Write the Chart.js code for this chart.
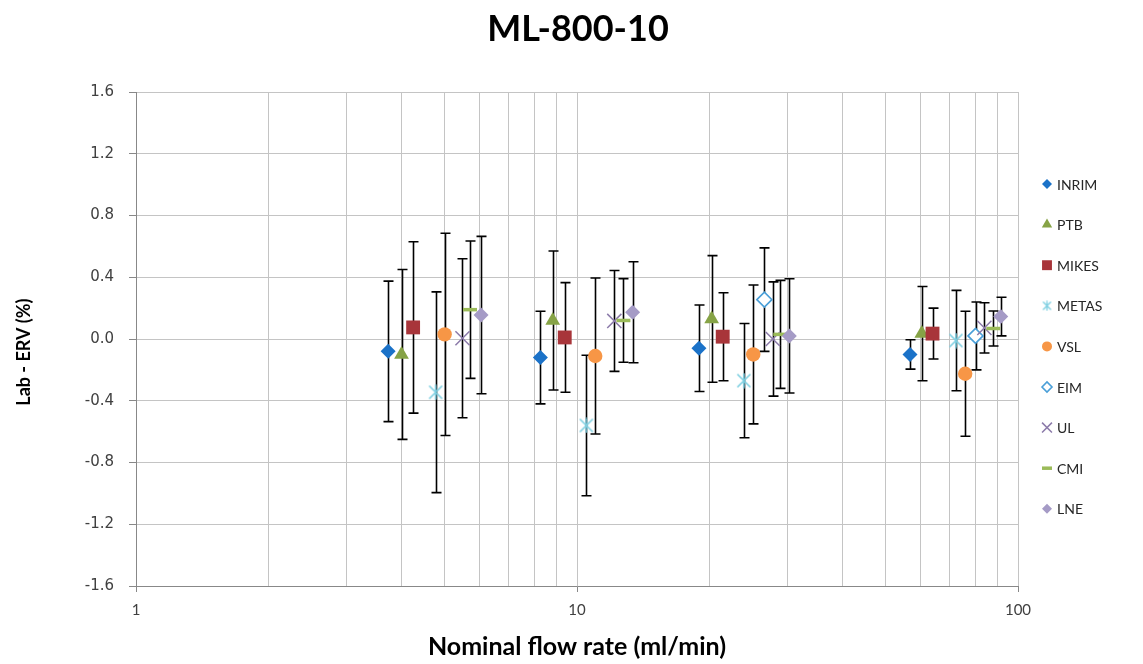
<!DOCTYPE html>
<html><head><meta charset="utf-8">
<script src="https://cdn.jsdelivr.net/npm/chart.js@4.4.1/dist/chart.umd.min.js"></script>
<style>html,body{margin:0;padding:0;background:#fff;} #wrap{width:1143px;height:664px;position:relative;}</style>
</head><body><div id="wrap"><canvas id="c" width="1143" height="664"></canvas></div>
<script>
// ---------- data ----------
const seriesNames = ['INRIM','PTB','MIKES','METAS','VSL','EIM','UL','CMI','LNE'];
const inrimX = [3.73, 8.26, 18.9, 56.9];
const inrimY = [-0.08, -0.12, -0.06, -0.10];
const inrimErr = [0.455, 0.30, 0.28, 0.095];
const ptbX = [4.0, 8.81, 20.2, 60.5];
const ptbY = [-0.10, 0.12, 0.13, 0.035];
const ptbErr = [0.55, 0.45, 0.41, 0.305];
const mikesX = [4.25, 9.38, 21.4, 64.0];
const mikesY = [0.075, 0.01, 0.015, 0.035];
const mikesErr = [0.555, 0.355, 0.285, 0.165];
const metasX = [4.78, 10.5, 23.9, 72.3];
const metasY = [-0.345, -0.56, -0.27, -0.01];
const metasErr = [0.65, 0.455, 0.37, 0.325];
const vslX = [5.01, 11.0, 25.1, 75.9];
const vslY = [0.03, -0.11, -0.10, -0.225];
const vslErr = [0.655, 0.505, 0.45, 0.405];
const eimX = [26.6, 80.1];
const eimY = [0.255, 0.02];
const eimErr = [0.335, 0.22];
const ulX = [5.5, 12.15, 27.8, 83.9];
const ulY = [0.005, 0.117, 0.0, 0.072];
const ulErr = [0.515, 0.327, 0.37, 0.163];
const cmiX = [5.72, 12.74, 28.9, 87.9];
const cmiY = [0.19, 0.12, 0.03, 0.068];
const cmiErr = [0.445, 0.271, 0.35, 0.113];
const lneX = [6.06, 13.37, 30.3, 91.4];
const lneY = [0.155, 0.173, 0.02, 0.145];
const lneErr = [0.51, 0.327, 0.37, 0.125];
const xGridTicks = [1,2,3,4,5,6,7,8,9,10,20,30,40,50,60,70,80,90,100];
const xLabelTicks = [1,10,100];
const yTicks = [-1.6,-1.2,-0.8,-0.4,0,0.4,0.8,1.2,1.6];

// ---------- helpers ----------
function pts(xs, ys){ return xs.map((x,i)=>({x:x, y:ys[i]})); }
function makeStar(color, size, lw){
  const c=document.createElement('canvas'); c.width=size; c.height=size;
  const g=c.getContext('2d'); g.strokeStyle=color; g.lineWidth=lw; g.lineCap='butt';
  const m=1.5, s=size;
  g.beginPath();
  g.moveTo(m,m); g.lineTo(s-m,s-m);
  g.moveTo(s-m,m); g.lineTo(m,s-m);
  g.moveTo(s/2,0.5); g.lineTo(s/2,s-0.5);
  g.stroke();
  return c;
}
const metasColor = '#7DCFE1';
const starBig = makeStar(metasColor, 16, 1.6);
const starSmall = makeStar(metasColor, 11, 1.3);

function ds(label, xs, ys, errs, style){
  return Object.assign({
    label: label, data: pts(xs, ys), errors: errs, showLine:false, yAxisID:'y'
  }, style);
}
const datasets = [
  ds(seriesNames[0], inrimX, inrimY, inrimErr, {pointStyle:'rectRot', pointRadius:7.5, backgroundColor:'#1B72C8', borderColor:'#1B72C8', pointBorderWidth:0, legendRadius:5}),
  ds(seriesNames[1], ptbX, ptbY, ptbErr, {pointStyle:'triangle', pointRadius:8.5, backgroundColor:'#86A346', borderColor:'#86A346', pointBorderWidth:0, legendRadius:6}),
  ds(seriesNames[2], mikesX, mikesY, mikesErr, {pointStyle:'rect', pointRadius:9.8, backgroundColor:'#A8353A', borderColor:'#A8353A', pointBorderWidth:0, legendRadius:7}),
  ds(seriesNames[3], metasX, metasY, metasErr, {pointStyle:starBig, legendStyle:starSmall, pointRadius:8, backgroundColor:metasColor, borderColor:metasColor, pointBorderWidth:0, legendRadius:5}),
  ds(seriesNames[4], vslX, vslY, vslErr, {pointStyle:'circle', pointRadius:7.2, backgroundColor:'#F79646', borderColor:'#F79646', pointBorderWidth:0, legendRadius:5}),
  ds(seriesNames[5], eimX, eimY, eimErr, {pointStyle:'rectRot', pointRadius:7.5, backgroundColor:'#ffffff', borderColor:'#4A9FD8', pointBorderWidth:1.6, legendRadius:5}),
  ds(seriesNames[6], ulX, ulY, ulErr, {pointStyle:'crossRot', pointRadius:10, backgroundColor:'#8C7BAA', borderColor:'#8C7BAA', pointBorderWidth:1.5, legendRadius:7}),
  ds(seriesNames[7], cmiX, cmiY, cmiErr, {pointStyle:'line', pointRadius:7, backgroundColor:'#9BBB59', borderColor:'#9BBB59', pointBorderWidth:3.5, legendRadius:5}),
  ds(seriesNames[8], lneX, lneY, lneErr, {pointStyle:'rectRot', pointRadius:7.5, backgroundColor:'#A59BC6', borderColor:'#A59BC6', pointBorderWidth:0, legendRadius:5})
];
datasets.forEach((d,i)=>{ d.order = -i; d.pointHoverRadius = d.pointRadius; });

// ---------- plugins ----------
const errorBarPlugin = {
  id:'errorBars',
  beforeDatasetsDraw(chart){
    const ctx=chart.ctx, xs=chart.scales.x, ys=chart.scales.y;
    ctx.save(); ctx.strokeStyle='#000'; ctx.lineWidth=1.6;
    chart.data.datasets.forEach(d=>{
      d.data.forEach((p,i)=>{
        const e=d.errors[i];
        const px=Math.round(xs.getPixelForValue(p.x))+0.5;
        const t=ys.getPixelForValue(p.y+e), b=ys.getPixelForValue(p.y-e);
        ctx.beginPath();
        ctx.moveTo(px,t); ctx.lineTo(px,b);
        ctx.moveTo(px-5,t); ctx.lineTo(px+5,t);
        ctx.moveTo(px-5,b); ctx.lineTo(px+5,b);
        ctx.stroke();
      });
    });
    ctx.restore();
  }
};
const legendPlugin = {
  id:'sideLegend',
  afterDraw(chart){
    const ctx=chart.ctx;
    ctx.save();
    chart.data.datasets.forEach((d,i)=>{
      const y=184+i*40.6, x=1047;
      ctx.fillStyle=d.backgroundColor; ctx.strokeStyle=d.borderColor; ctx.lineWidth=d.pointBorderWidth||0;
      const opts={pointStyle:d.legendStyle||d.pointStyle, radius:d.legendRadius, borderWidth:d.pointBorderWidth||0, rotation:0};
      if (Chart.helpers && Chart.helpers.drawPoint) { Chart.helpers.drawPoint(ctx, opts, x, y); }
      else { ctx.beginPath(); ctx.arc(x,y,4,0,Math.PI*2); ctx.fill(); }
      ctx.fillStyle='#262626'; ctx.font='14px Lato'; ctx.textBaseline='middle'; ctx.textAlign='left';
      ctx.fillText(d.label, 1057, y+1);
    });
    ctx.restore();
  }
};

new Chart(document.getElementById('c'), {
  type:'scatter',
  data:{ datasets: datasets },
  plugins:[errorBarPlugin, legendPlugin],
  options:{
    responsive:false, animation:false, events:[],
    layout:{padding:{left:13, right:0, top:0, bottom:0}},
    plugins:{
      legend:{display:false}, tooltip:{enabled:false},
      title:{display:true, text:'ML-800-10', color:'#000', font:{family:'Lato', size:36, weight:'bold'}, padding:{top:8, bottom:40.8}}
    },
    scales:{
      x:{
        type:'logarithmic', min:1, max:100,
        afterBuildTicks: s=>{ s.ticks = xGridTicks.map(v=>({value:v})); },
        afterFit: s=>{ s.height = 78; },
        ticks:{ autoSkip:false, maxRotation:0, minRotation:0, padding:9,
          callback:(v)=> xLabelTicks.includes(v) ? String(v) : '',
          font:{family:'Lato', size:15}, color:'#404040' },
        grid:{ color:'#c4c4c4', lineWidth:1, tickLength:6,
          tickColor: c => (c.tick && xLabelTicks.includes(c.tick.value)) ? '#888' : 'rgba(0,0,0,0)' },
        border:{color:'#888', width:1},
        title:{display:true, text:'Nominal flow rate (ml/min)', color:'#000', font:{family:'Lato', size:25, weight:'bold'}, padding:{top:0, bottom:2}}
      },
      y:{
        position:'left', min:-1.6, max:1.6,
        afterBuildTicks: s=>{ s.ticks = yTicks.map(v=>({value:v})); },
        afterFit: s=>{ s.width = 123; },
        ticks:{ callback:v=> (Math.abs(v)<1e-9 ? 0 : v).toFixed(1), font:{family:'DejaVu Sans', size:15}, color:'#404040', padding:15 },
        grid:{ color:'#c4c4c4', lineWidth:1, tickLength:7, tickColor:'#888' },
        border:{color:'#888', width:1},
        title:{display:true, text:'Lab - ERV (%)      ', color:'#000', font:{family:'Lato', size:18, weight:'bold'}, padding:{top:0, bottom:0}}
      },
      yRight:{
        position:'right', min:0, max:1,
        afterFit: s=>{ s.width = 125; },
        ticks:{display:false}, grid:{display:false, drawTicks:false}, border:{display:false}, title:{display:false}
      }
    }
  }
});
</script></body></html>
